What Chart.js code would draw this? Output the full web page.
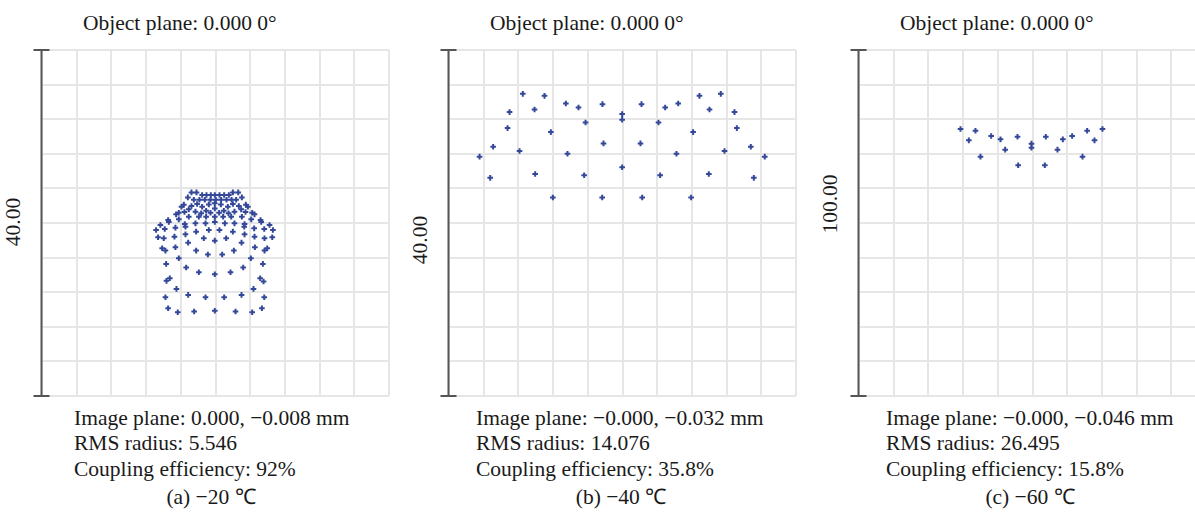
<!DOCTYPE html>
<html>
<head>
<meta charset="utf-8">
<script src="https://cdn.jsdelivr.net/npm/chart.js@4/dist/chart.umd.min.js"></script>
<style>
  body { margin: 0; background: #fff; }
  #page { position: relative; width: 1195px; height: 514px; overflow: hidden;
          font-family: "Liberation Serif", "Times New Roman", serif; color: #1a1a1a; }
  canvas { position: absolute; }
  .txt { position: absolute; font-size: 21.5px; line-height: 25.4px; white-space: nowrap; }
  .one { line-height: 21.5px; }
  .cap { transform: translateX(-50%); }
  .bar { line-height: 21.5px; transform: translate(-50%, -50%) rotate(-90deg); }
</style>
</head>
<body>
<div id="page"></div>
<script>
// spot positions in micrometres
const spotsA = [
  [-2.77,3.54],[-2.19,3.54],[2.00,3.54],[2.62,3.54],
  [-1.54,3.23],[-1.04,3.23],[-0.54,3.23],[-0.08,3.23],[0.46,3.23],[1.00,3.23],[1.54,3.23],
  [-3.19,2.96],[3.04,2.96],
  [-2.50,2.69],[-1.85,2.69],[-1.23,2.69],[-0.58,2.69],[0.04,2.69],[0.65,2.69],[1.27,2.69],[1.85,2.69],[2.38,2.69],
  [-3.92,1.88],[-3.65,2.12],[-2.77,1.96],[-2.12,2.19],[-1.54,1.88],[-0.77,2.15],[-0.08,2.27],[0.62,2.15],[1.42,1.88],[2.00,2.19],[2.69,1.96],[3.50,2.12],[3.73,1.88],
  [-3.08,1.58],[-1.08,1.42],[-0.08,1.69],[0.96,1.42],[2.96,1.58],
  [-4.54,1.00],[-4.23,1.19],[-3.58,1.27],[-2.31,1.31],[-1.65,1.12],[-0.58,1.19],[0.42,1.19],[1.50,1.12],[2.19,1.31],[3.46,1.27],[4.23,1.19],[4.50,1.00],
  [-3.08,0.73],[-1.92,0.73],[-1.08,0.73],[-0.08,0.73],[0.88,0.73],[1.81,0.73],[3.04,0.73],
  [-5.46,0.35],[-5.38,0.12],[-4.23,0.42],[4.12,0.42],[5.19,0.35],[5.27,0.12],
  [-6.35,-0.23],[-3.54,-0.12],[-2.31,-0.04],[-1.15,-0.04],[-0.08,0.12],[1.08,-0.04],[2.19,-0.04],[3.35,-0.12],[6.23,-0.23],
  [-6.85,-0.81],[-5.85,-0.69],[-4.62,-0.54],[-3.46,-0.42],[-2.23,-1.00],[-0.77,-0.81],[0.46,-0.81],[2.00,-1.00],[3.31,-0.42],[4.46,-0.62],[5.62,-0.69],[6.62,-0.81],
  [-6.62,-1.65],[-5.96,-1.77],[-4.73,-1.58],[-3.46,-1.31],[-1.35,-1.77],[-0.08,-2.04],[1.23,-1.77],[3.35,-1.31],[4.50,-1.58],[5.65,-1.77],[6.54,-1.65],
  [-3.15,-2.27],[3.00,-2.27],
  [-6.15,-2.92],[-5.77,-3.19],[-4.62,-2.81],[-2.23,-3.19],[-0.88,-3.65],[0.77,-3.65],[2.12,-3.19],[4.54,-2.81],[5.65,-3.19],[5.96,-2.92],
  [-4.23,-4.08],[4.08,-4.08],
  [-5.69,-4.73],[5.46,-4.73],
  [-3.38,-5.15],[-1.92,-5.69],[-0.08,-5.92],[1.73,-5.69],[3.19,-5.15],
  [-5.65,-6.69],[-5.27,-6.38],[-4.50,-7.62],[5.15,-6.38],[5.54,-6.77],[4.38,-7.62],
  [-5.77,-8.58],[-3.15,-8.31],[-1.15,-8.58],[1.00,-8.58],[3.00,-8.31],[5.62,-8.58],
  [-5.46,-9.85],[-4.35,-10.31],[-2.46,-10.23],[-0.08,-10.15],[2.31,-10.23],[4.23,-10.31],[5.35,-9.85]
];
const spotsB = [
  [-11.49,14.93],[-8.99,14.70],[-13.02,12.82],[-10.14,13.13],[-6.53,13.82],[-5.07,13.35],[-2.31,13.74],
  [-0.04,12.59],[-0.04,11.93],[2.19,13.74],[4.92,13.35],[6.42,13.82],[8.87,14.70],[11.33,14.93],[10.03,13.13],[12.91,12.82],
  [-13.25,10.97],[-8.26,10.51],[-4.26,11.62],[4.15,11.62],[8.14,10.51],[13.18,10.97],
  [-14.91,8.82],[-11.87,8.32],[-6.34,8.01],[-2.19,9.20],[2.07,9.20],[6.22,8.01],[11.76,8.32],[14.79,8.82],
  [-16.48,7.67],[16.40,7.67],
  [-15.25,5.22],[-10.07,5.67],[-4.42,5.52],[-0.04,6.44],[4.34,5.52],[9.95,5.67],[15.14,5.22],
  [-8.03,2.94],[-2.34,2.94],[2.27,2.94],[7.91,2.94]
];
const spotsC = [
  [-20.75,27.16],[-16.43,26.68],[-18.35,23.89],[-11.91,25.14],[-14.99,19.18],[-9.22,24.18],[-4.32,24.94],
  [-7.88,21.20],[-4.13,16.68],[-0.29,22.93],[-0.29,21.78],[3.84,24.94],[3.55,16.68],[7.20,21.20],
  [8.74,24.18],[11.43,25.14],[14.41,19.18],[15.75,26.68],[17.87,23.89],[20.17,27.16]
];

// box size of each diagram (µm) and grid step
const boxSizes = [40, 40, 100];
const scaleLabels = ['40.00', '40.00', '100.00'];
const imagePlanes = ['0.000, −0.008 mm', '−0.000, −0.032 mm', '−0.000, −0.046 mm'];
const rmsRadii = ['5.546', '14.076', '26.495'];
const couplings = ['92%', '35.8%', '15.8%'];
const captions = ['(a) −20 ℃', '(b) −40 ℃', '(c) −60 ℃'];

const page = document.getElementById('page');
const plotLefts = [42, 449, 859];
const plotTop = 50, plotW = 347, plotH = 346;
const capCenters = [211, 621, 1030];
const barLabelY = [222, 240, 204];

const scaleBar = {
  id: 'scaleBar',
  afterDraw(chart) {
    const {ctx, scales: {x, y}} = chart;
    const px = Math.round(x.getPixelForValue(x.min)) - 0.5;
    const top = y.getPixelForValue(y.max), bot = y.getPixelForValue(y.min);
    ctx.save();
    ctx.strokeStyle = '#555';
    ctx.lineWidth = 2;
    ctx.beginPath();
    ctx.moveTo(px, top); ctx.lineTo(px, bot);
    ctx.moveTo(px - 8, top); ctx.lineTo(px + 8, top);
    ctx.moveTo(px - 8, bot); ctx.lineTo(px + 8, bot);
    ctx.stroke();
    ctx.restore();
  }
};

function addText(cls, left, top, html) {
  const d = document.createElement('div');
  d.className = 'txt ' + cls;
  d.style.left = left + 'px';
  d.style.top = top + 'px';
  d.innerHTML = html;
  page.appendChild(d);
}

[spotsA, spotsB, spotsC].forEach((spots, i) => {
  const half = boxSizes[i] / 2;
  const canvas = document.createElement('canvas');
  const padL = 12, padT = 8;
  canvas.width = plotW + 24;
  canvas.height = plotH + 16;
  canvas.style.left = (plotLefts[i] - padL) + 'px';
  canvas.style.top = (plotTop - padT) + 'px';
  page.appendChild(canvas);

  const axis = {
    type: 'linear',
    min: -half,
    max: half,
    ticks: { display: false, stepSize: boxSizes[i] / 10 },
    grid: { color: '#e6e6e6', lineWidth: 2, drawTicks: false },
    border: { display: false }
  };

  new Chart(canvas, {
    type: 'scatter',
    data: {
      datasets: [{
        data: spots.map(p => ({ x: p[0], y: p[1] })),
        pointStyle: 'cross',
        radius: 2.8,
        borderWidth: 2,
        borderColor: '#34489a',
        backgroundColor: '#34489a'
      }]
    },
    options: {
      responsive: false,
      animation: false,
      layout: { padding: { left: padL, top: padT, right: 12, bottom: 8 } },
      plugins: { legend: { display: false }, tooltip: { enabled: false } },
      scales: { x: axis, y: axis }
    },
    plugins: [scaleBar]
  });

  addText('one', plotLefts[i] + 41, 13, 'Object plane: 0.000 0°');
  addText('', plotLefts[i] + (i === 0 ? 32 : 27), 406,
    'Image plane: ' + imagePlanes[i] + '<br>RMS radius: ' + rmsRadii[i] +
    '<br>Coupling efficiency: ' + couplings[i]);
  addText('cap', capCenters[i], 485, captions[i]);
  addText('bar', plotLefts[i] - 28, barLabelY[i], scaleLabels[i]);
});
</script>
</body>
</html>
